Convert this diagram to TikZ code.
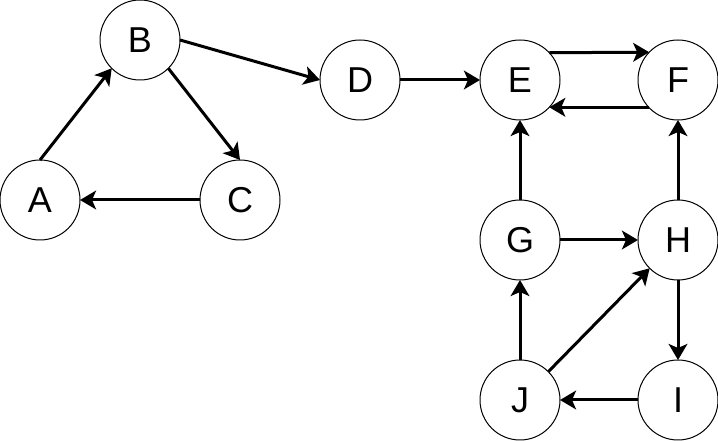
\documentclass[tikz,border=0pt]{standalone}
\usepackage{fontspec}
\setmainfont{Liberation Sans}
\usetikzlibrary{arrows.meta}
\begin{document}
\begin{tikzpicture}[x=0.75pt,y=-0.75pt,
  vert/.style={circle,draw=black,line width=0.75pt,fill=white,minimum size=60pt,inner sep=0pt,outer sep=0pt,font=\fontsize{27}{32}\selectfont},
  edge/.style={line width=2.25pt,-{Stealth[length=12pt,width=14pt,inset=3pt]}}]
\useasboundingbox (0,0) rectangle (718,441);
\node[vert] (A) at (40,200) {A};
\node[vert] (B) at (140,40) {B};
\node[vert] (C) at (240,200) {C};
\node[vert] (D) at (360,80) {D};
\node[vert] (E) at (520,80) {E};
\node[vert] (F) at (678,80) {F};
\node[vert] (G) at (520,240) {G};
\node[vert] (H) at (678,240) {H};
\node[vert] (I) at (678,400) {I};
\node[vert] (J) at (520,400) {J};
\draw[edge] (A.90) -- (B.225);
\draw[edge] (B.-45) -- (C.90);
\draw[edge] (C.180) -- (A.0);
\draw[edge] (B.0) -- (D.180);
\draw[edge] (D.0) -- (E.180);
\draw[edge] (E.43.4) -- (F.136.6);
\draw[edge] (F.223.4) -- (E.-43.4);
\draw[edge] (G.90) -- (E.270);
\draw[edge] (G.0) -- (H.180);
\draw[edge] (H.90) -- (F.270);
\draw[edge] (H.270) -- (I.90);
\draw[edge] (I.180) -- (J.0);
\draw[edge] (J.90) -- (G.270);
\draw[edge] (J.45) -- (H.225);
\end{tikzpicture}
\end{document}
